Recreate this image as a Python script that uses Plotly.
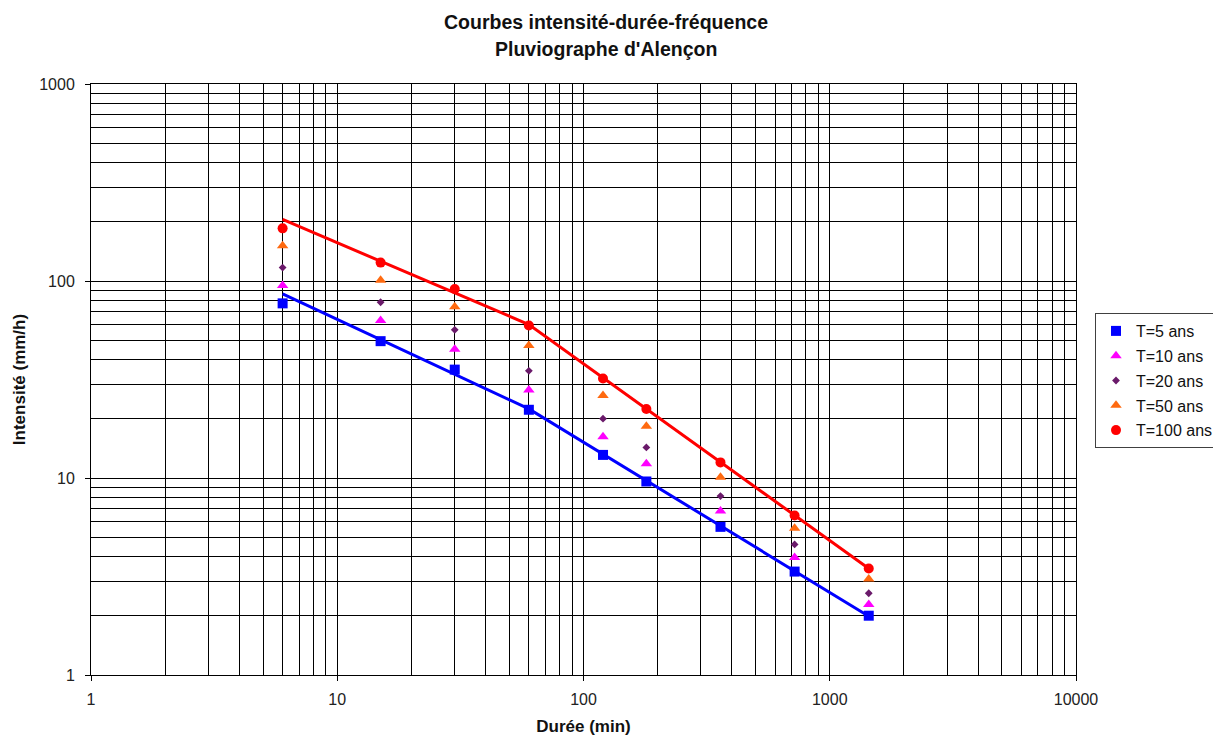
import numpy as np
import plotly.graph_objects as go

durees = [6, 15, 30, 60, 120, 180, 360, 720, 1440]
t5 = [77, 49.5, 35.5, 22.2, 13.1, 9.6, 5.65, 3.35, 2.0]
t10 = [95, 63, 45, 28, 16.2, 11.8, 6.8, 3.95, 2.28]
t20 = [117, 78, 56.5, 35, 20, 14.3, 8.1, 4.6, 2.6]
t50 = [151, 101, 74, 47, 26.2, 18.3, 10.1, 5.55, 3.07]
t100 = [185, 124, 91, 59.5, 32, 22.4, 12.0, 6.45, 3.47]

series_names = ["T=5 ans", "T=10 ans", "T=20 ans", "T=50 ans", "T=100 ans"]
x_ticks = [1, 10, 100, 1000, 10000]
y_ticks = [1, 10, 100, 1000]
title_lines = ["Courbes intensité-durée-fréquence", "Pluviographe d'Alençon"]
break_duree = 60  # change of Montana fit range

FONT = "Liberation Sans, Arial, sans-serif"
OFF = 8  # default page body margin
W, H = 1221 - OFF, 736 - OFF
PL, PR, PT, PB = 91, 1076, 84, 675  # plot area in page pixels


def montana_line(x, y):
    """Two-range power-law fit (15-60 min and 60-1440 min), joined at 60 min."""
    x = np.asarray(x, float)
    y = np.asarray(y, float)
    m1 = (x >= 15) & (x <= break_duree)
    m2 = x >= break_duree
    b1, la1 = np.polyfit(np.log(x[m1]), np.log(y[m1]), 1)
    b2, la2 = np.polyfit(np.log(x[m2]), np.log(y[m2]), 1)
    lb = np.log(break_duree)
    lx = np.log(np.array([x.min(), break_duree, x.max()]))
    ly = np.array([la1 + b1 * lx[0],
                   0.5 * ((la1 + b1 * lb) + (la2 + b2 * lb)),
                   la2 + b2 * lx[2]])
    return np.exp(lx), np.exp(ly)


fig = go.Figure()

lx, ly = montana_line(durees, t5)
fig.add_trace(go.Scatter(x=lx, y=ly, mode="lines", line=dict(color="#0000FF", width=3),
                         showlegend=False, hoverinfo="skip"))
lx, ly = montana_line(durees, t100)
fig.add_trace(go.Scatter(x=lx, y=ly, mode="lines", line=dict(color="#FF0000", width=3),
                         showlegend=False, hoverinfo="skip"))

styles = [
    dict(symbol="square", color="#0000FF", size=10),
    dict(symbol="triangle-up", color="#FF00FF", size=10),
    dict(symbol="diamond", color="#6A1A6A", size=6),
    dict(symbol="triangle-up", color="#FF6A10", size=10),
    dict(symbol="circle", color="#FF0000", size=10),
]
for name, vals, st in zip(series_names, [t5, t10, t20, t50, t100], styles):
    fig.add_trace(go.Scatter(x=durees, y=vals, mode="markers", name=name,
                             legendgroup=name,
                             marker=dict(symbol=st["symbol"], color=st["color"], size=st["size"],
                                         line=dict(width=0))))

axis_common = dict(
    type="log",
    showgrid=True, gridcolor="black", gridwidth=1,
    showline=True, linecolor="black", linewidth=1, mirror=True,
    ticks="outside", ticklen=5, tickcolor="black",
    tickfont=dict(family=FONT, size=16, color="#222222"),
    minor=dict(dtick="D1", showgrid=True, gridcolor="black", gridwidth=1, ticks=""),
    zeroline=False,
)

fig.update_xaxes(**axis_common, range=[0, 4], tickvals=x_ticks, ticktext=[str(v) for v in x_ticks],
                 ticklabelstandoff=5,
                 title=dict(text="<b>Durée (min)</b>", font=dict(family=FONT, size=17, color="#111111"),
                            standoff=14))
fig.update_yaxes(**axis_common, range=[0, 3], tickvals=y_ticks, ticktext=[str(v) for v in y_ticks],
                 ticklabelstandoff=7,
                 title=dict(text="<b>Intensité (mm/h)</b>", font=dict(family=FONT, size=17, color="#111111"),
                            standoff=9))

for line, yc in zip(title_lines, [22, 49]):
    fig.add_annotation(text="<b>" + line + "</b>", xref="paper", yref="paper",
                       x=(606 - PL) / (PR - PL), y=(PB - yc) / (PB - PT),
                       xanchor="center", yanchor="middle", showarrow=False,
                       font=dict(family=FONT, size=19.5, color="#111111"))

fig.update_layout(
    width=W, height=H,
    margin=dict(l=PL - OFF, r=W - (PR - OFF), t=PT - OFF, b=H - (PB - OFF), autoexpand=False),
    paper_bgcolor="white", plot_bgcolor="white",
    legend=dict(x=(1219 - PL) / (PR - PL), xanchor="right", y=(PB - 313) / (PB - PT), yanchor="top",
                bordercolor="#404040", borderwidth=1, bgcolor="white",
                font=dict(family=FONT, size=16, color="#111111"),
                traceorder="grouped", tracegroupgap=1, itemwidth=30),
    showlegend=True,
)

fig.write_html("out.html")
